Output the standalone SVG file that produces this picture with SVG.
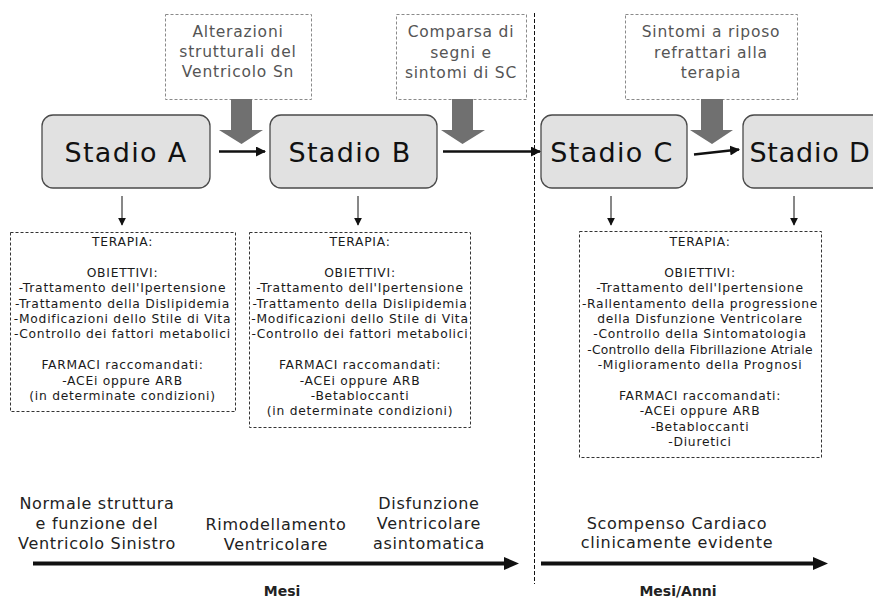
<svg xmlns="http://www.w3.org/2000/svg" width="873" height="603" viewBox="0 0 873 603">
<style>
text{font-family:"DejaVu Sans","Open Sans",sans-serif;text-anchor:middle}
.st{fill:#e1e1e1;stroke:#4a4a4a;stroke-width:1.3}
.stt{font-size:27px;fill:#111;letter-spacing:1.3px}
.ev{fill:#fff;stroke:#8a8a8a;stroke-width:1;stroke-dasharray:3,2}
.evt{font-size:15.5px;fill:#555;letter-spacing:0.8px}
.tb{fill:#fff;stroke:#333;stroke-width:1;stroke-dasharray:3,2}
.tt{font-size:12.3px;fill:#1a1a1a;letter-spacing:0.75px}
.bl{font-size:16px;fill:#222;letter-spacing:0.7px}
.bold{font-size:14px;font-weight:bold;fill:#222}
.ga{fill:#707070}
.ln{stroke:#111;fill:none}
</style>
<defs>
<marker id="ah" viewBox="0 0 10 10" refX="9" refY="5" markerWidth="4" markerHeight="4" orient="auto" markerUnits="strokeWidth"><path d="M0,0L10,5L0,10z" fill="#111"/></marker>
<marker id="ahs" viewBox="0 0 10 10" refX="9" refY="5" markerWidth="8" markerHeight="8" orient="auto" markerUnits="strokeWidth"><path d="M0,0L10,5L0,10z" fill="#111"/></marker>
</defs>

<g id="event1">
<rect class="ev" x="165.5" y="14.5" width="146" height="85"/>
<text class="evt" x="238" y="37">Alterazioni</text>
<text class="evt" x="238" y="57">strutturali del</text>
<text class="evt" x="238" y="77">Ventricolo Sn</text>
</g>
<g id="event2">
<rect class="ev" x="396.5" y="14.5" width="130" height="85"/>
<text class="evt" x="461" y="37">Comparsa di</text>
<text class="evt" x="461" y="58">segni e</text>
<text class="evt" x="461" y="78">sintomi di SC</text>
</g>
<g id="event3">
<rect class="ev" x="625.5" y="14.5" width="172" height="85"/>
<text class="evt" x="711" y="37">Sintomi a riposo</text>
<text class="evt" x="711" y="58">refrattari alla</text>
<text class="evt" x="711" y="78">terapia</text>
</g>

<g id="stadioA">
<rect class="st" x="42" y="115" width="168" height="73" rx="11"/>
<text class="stt" x="126" y="162">Stadio A</text>
</g>
<g id="stadioB">
<rect class="st" x="270" y="115" width="167" height="73" rx="11"/>
<text class="stt" x="350" y="162">Stadio B</text>
</g>
<g id="stadioC">
<rect class="st" x="541" y="115" width="146" height="73" rx="11"/>
<text class="stt" x="612" y="162">Stadio C</text>
</g>
<g id="stadioD">
<rect class="st" x="743" y="115" width="150" height="73" rx="11"/>
<text class="stt" x="810" y="162" style="letter-spacing:0.8px">Stadio D</text>
</g>

<g id="terapiaA">
<rect class="tb" x="10.5" y="232.5" width="225" height="179"/>
<g class="tt">
<text x="122.5" y="246">TERAPIA:</text>
<text x="122.5" y="276.8">OBIETTIVI:</text>
<text x="122.5" y="292.2">-Trattamento dell'Ipertensione</text>
<text x="122.5" y="307.6">-Trattamento della Dislipidemia</text>
<text x="122.5" y="323">-Modificazioni dello Stile di Vita</text>
<text x="122.5" y="338.4">-Controllo dei fattori metabolici</text>
<text x="122.5" y="369.2">FARMACI raccomandati:</text>
<text x="122.5" y="384.6">-ACEi oppure ARB</text>
<text x="122.5" y="400">(in determinate condizioni)</text>
</g>
</g>
<g id="terapiaB">
<rect class="tb" x="249.5" y="232.5" width="221" height="195"/>
<g class="tt">
<text x="360" y="246">TERAPIA:</text>
<text x="360" y="276.8">OBIETTIVI:</text>
<text x="360" y="292.2">-Trattamento dell'Ipertensione</text>
<text x="360" y="307.6">-Trattamento della Dislipidemia</text>
<text x="360" y="323">-Modificazioni dello Stile di Vita</text>
<text x="360" y="338.4">-Controllo dei fattori metabolici</text>
<text x="360" y="369.2">FARMACI raccomandati:</text>
<text x="360" y="384.6">-ACEi oppure ARB</text>
<text x="360" y="400">-Betabloccanti</text>
<text x="360" y="415.4">(in determinate condizioni)</text>
</g>
</g>
<g id="terapiaC">
<rect class="tb" x="579.5" y="231.5" width="242" height="226"/>
<g class="tt">
<text x="700" y="246">TERAPIA:</text>
<text x="700" y="276.8">OBIETTIVI:</text>
<text x="700" y="292.2">-Trattamento dell'Ipertensione</text>
<text x="700" y="307.6">-Rallentamento della progressione</text>
<text x="700" y="323">della Disfunzione Ventricolare</text>
<text x="700" y="338.4">-Controllo della Sintomatologia</text>
<text x="700" y="353.8" style="letter-spacing:0.3px">-Controllo della Fibrillazione Atriale</text>
<text x="700" y="369.2">-Miglioramento della Prognosi</text>
<text x="700" y="400">FARMACI raccomandati:</text>
<text x="700" y="415.4">-ACEi oppure ARB</text>
<text x="700" y="430.8">-Betabloccanti</text>
<text x="700" y="446.2">-Diuretici</text>
</g>
</g>

<g id="labels">
<text class="bl" x="97" y="509">Normale struttura</text>
<text class="bl" x="97" y="529">e funzione del</text>
<text class="bl" x="97" y="549">Ventricolo Sinistro</text>
<text class="bl" x="276" y="530">Rimodellamento</text>
<text class="bl" x="276" y="550">Ventricolare</text>
<text class="bl" x="429" y="509">Disfunzione</text>
<text class="bl" x="429" y="529">Ventricolare</text>
<text class="bl" x="429" y="549">asintomatica</text>
<text class="bl" x="677" y="529">Scompenso Cardiaco</text>
<text class="bl" x="677" y="548">clinicamente evidente</text>
<text class="bold" x="282" y="596">Mesi</text>
<text class="bold" x="678" y="596">Mesi/Anni</text>
</g>

<g id="connectors">
<path class="ga" d="M231,99H252V130H263L241.5,144L219,130H231Z"/>
<path class="ga" d="M452,99H473V130H485L462.5,144L441,130H452Z"/>
<path class="ga" d="M701,99H723V130H733L712,144L690,130H701Z"/>
<line class="ln" x1="219" y1="151.5" x2="265" y2="151.5" stroke-width="2.5" marker-end="url(#ah)"/>
<line class="ln" x1="443" y1="151.5" x2="540" y2="151.5" stroke-width="2.5" marker-end="url(#ah)"/>
<line class="ln" x1="694" y1="154.5" x2="739" y2="149.5" stroke-width="2.5" marker-end="url(#ah)"/>
<line class="ln" x1="122" y1="196" x2="122" y2="225" stroke-width="1" marker-end="url(#ahs)"/>
<line class="ln" x1="358" y1="196" x2="358" y2="225" stroke-width="1" marker-end="url(#ahs)"/>
<line class="ln" x1="611" y1="196" x2="611" y2="225" stroke-width="1" marker-end="url(#ahs)"/>
<line class="ln" x1="794" y1="196" x2="794" y2="225" stroke-width="1" marker-end="url(#ahs)"/>
<line class="ln" x1="534.5" y1="13" x2="534.5" y2="584" stroke-width="1" stroke-dasharray="4,2"/>
<line class="ln" x1="33" y1="563.5" x2="506" y2="563.5" stroke-width="4"/>
<path d="M504,557L519,563.5L504,570Z" fill="#111"/>
<line class="ln" x1="541" y1="563.5" x2="815" y2="563.5" stroke-width="4"/>
<path d="M813,557L828,563.5L813,570Z" fill="#111"/>
</g>
</svg>
